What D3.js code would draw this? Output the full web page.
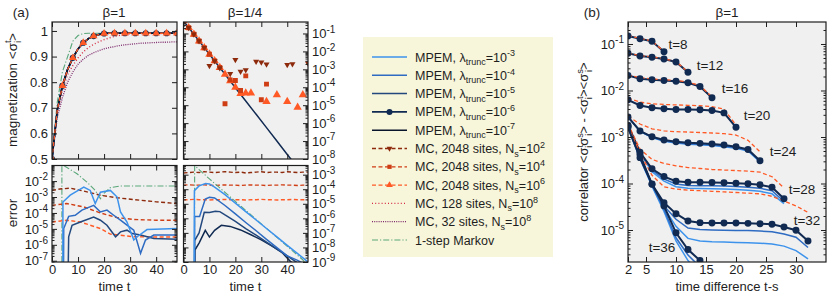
<!DOCTYPE html>
<html><head><meta charset="utf-8">
<script src="https://cdn.jsdelivr.net/npm/d3@7"></script>
<style>
body{margin:0;background:#fff;}
text{font-family:'Liberation Sans',Arial,Helvetica,sans-serif;fill:#1e1e1e;}
</style></head>
<body><svg id="c" width="830" height="295"></svg>
<script>
// ================= DATA =================
// panel (a), beta=1, magnetization
const tA = [0,2,4,6,8,10,12,14,16,18,20,22,24,26,28,30,32,34,36,38,40,42,44,46,48];
const magMPEM   = [0.5,0.69,0.786,0.85,0.895,0.93,0.954,0.97,0.98,0.986,0.99,0.991,0.991,0.991,0.991,0.991,0.991,0.991,0.991,0.991,0.991,0.991,0.991,0.991,0.991];
const magMC128  = [0.5,0.68,0.77,0.83,0.865,0.895,0.918,0.935,0.948,0.958,0.966,0.973,0.979,0.983,0.986,0.988,0.989,0.99,0.99,0.99,0.99,0.99,0.99,0.99,0.99];
const magMC32   = [0.5,0.66,0.74,0.80,0.84,0.87,0.89,0.905,0.915,0.923,0.93,0.935,0.939,0.943,0.946,0.948,0.95,0.952,0.953,0.954,0.955,0.956,0.956,0.957,0.957];
const magMarkov = [0.5,0.72,0.84,0.90,0.96,0.982,0.99,0.991,0.991,0.991,0.991,0.991,0.991,0.991,0.991,0.991,0.991,0.991,0.991,0.991,0.991,0.991,0.991,0.991,0.991];
// panel (a), beta=1/4, magnetization (log)
const tB = [0,4,8,12,16,20,24,28,32,36,40,44,48];
const magB_MPEM = [0.5,0.09,0.0163,0.00295,5.3e-4,9.5e-5,1.7e-5,3.1e-6,5.6e-7,1e-7,1.8e-8,3.3e-9,6e-10];
const magB_N2 = [0.5,0.21,0.09,0.038,0.016,1.6e-3,2.9e-3,1.2e-3,null,5.6e-4,3.4e-3,7.6e-4,9.3e-4,null,2.7e-3,2.5e-3,1.9e-3,null,null,null,1.8e-3,2e-3,null,null,2.2e-3];
const magB_N4 = [0.5,0.21,0.09,0.038,0.016,6.9e-3,2.95e-3,1.26e-3,1.2e-5,2.6e-4,2.4e-4,6.6e-5,4.3e-4,null,null,2e-5,1.5e-4,null,null,null,null,null,null,null,null];
const magB_N6 = [0.5,0.21,0.09,0.038,0.016,6.9e-3,2.95e-3,1.26e-3,5.3e-4,2.3e-4,1e-4,4.5e-5,4.8e-5,4.8e-5,null,null,1.6e-5,null,3.8e-5,null,1.6e-5,null,7.6e-6,3.8e-5,null];
// errors, beta=1  ([t, error])
const errA_L3 = [[4.1,1e-12],[4.2,4.9e-4],[7,1.3e-3],[12.2,4.2e-3],[14.7,2.6e-3],[16.6,3.9e-4],[18.6,2e-3],[22.4,2.6e-3],[25,1e-3],[26.3,1.15e-4],[28.8,2.7e-5],[31.4,2e-6],[32.7,3.2e-6],[36.5,9.1e-6],[48,1.05e-5]];
const errA_L4 = [[4.3,1e-12],[4.5,1.05e-5],[6.4,6.1e-5],[8.9,7.2e-5],[11.5,1.5e-4],[16,3e-4],[18.6,1.15e-4],[21.1,1.5e-4],[23.7,7.2e-5],[26.3,3.5e-5],[28.8,1.7e-5],[31.4,8.3e-6],[34,2.9e-7],[35.9,2e-6],[39.1,4.1e-6],[48,4.1e-6]];
const errA_L5 = [[5.8,1e-12],[6.4,3.2e-6],[7.7,1.7e-5],[10.9,2.7e-5],[16,5.6e-5],[18.6,3.5e-5],[21.1,1.7e-5],[24.4,3.2e-6],[26.3,6.5e-6],[28.8,8.3e-6],[30.8,5.1e-6],[34,4.1e-6],[39.1,2.5e-6],[48,2.2e-6]];
const errA_N2 = [[0,2.6e-3],[3,3.2e-3],[7,3.6e-3],[12,2.4e-3],[18.6,1.3e-3],[25,9e-4],[31.4,6.9e-4],[40,5e-4],[48,3.9e-4]];
const errA_N4 = [[0,3e-4],[5.7,3.9e-4],[12.2,2.4e-4],[18.6,1e-4],[25,5.1e-5],[31.4,3.9e-5],[40,3.5e-5],[48,3.5e-5]];
const errA_N6 = [[0,2.7e-5],[5.7,3.5e-5],[10.9,2.7e-5],[18.6,1.05e-5],[22.4,4.7e-6],[31.4,3.2e-6],[40,3.1e-6],[48,3.1e-6]];
const errA_Mk = [[3.8,1e-12],[3.8,0.12],[5.1,0.083],[9.6,0.029],[13.4,8.7e-3],[16.6,2.6e-3],[18.6,7.9e-4],[19.8,1.6e-3],[22.4,3.9e-3],[26.3,4.9e-3],[48,4.9e-3]];
// errors, beta=1/4
const errB_L3 = [[4.1,1e-12],[4.2,8e-5],[6,1.7e-4],[8.5,2.5e-4],[10,2.3e-4],[12,1.4e-4],[16,4.3e-5],[20,1.1e-5],[24,2.9e-6],[28,7.7e-7],[32,2e-7],[36,5.3e-8],[40,1.4e-8],[44,3.8e-9],[48,1e-9]];
const errB_L4 = [[4.2,1e-12],[4.3,1.35e-6],[6.2,1.35e-6],[8.4,2.1e-5],[10,2.8e-5],[12,2.5e-5],[16,7.6e-6],[20,2e-6],[24,5.2e-7],[28,1.4e-7],[32,3.6e-8],[36,9.7e-9],[40,2.6e-9],[44,1.3e-9],[48,5e-10]];
const errB_L5 = [[4.2,1e-12],[4.3,3e-8],[6,1e-7],[8,2.6e-6],[10,2.5e-6],[12.3,3.1e-6],[14,2.9e-6],[16,1.7e-6],[20,6.2e-7],[24,2e-7],[28,6.9e-8],[32,2.3e-8],[36,7.6e-9],[40,2.6e-9],[44,8.6e-10]];
const errB_L6 = [[4.3,1e-12],[4.4,6.6e-9],[6,2e-8],[8.4,1.5e-7],[10,5.2e-8],[12,1.5e-7],[14.6,3.3e-7],[18,2.8e-7],[22,1.6e-7],[26,7.5e-8],[30,3.3e-8],[34,1.3e-8],[38,4.5e-9],[41,1.2e-9],[44,4e-10]];
const errB_N2 = [1.3e-3,1.4e-3,1.5e-3,1.4e-3,1.6e-3,1.5e-3,1.4e-3,1.5e-3,1.6e-3,1.5e-3,1.4e-3,1.5e-3,1.3e-3,1.4e-3,1.5e-3,1.6e-3,1.4e-3,1.5e-3,1.5e-3,1.4e-3,1.6e-3,1.5e-3,1.4e-3,1.5e-3,1.5e-3];
const errB_N4 = [1.9e-4,2e-4,1.9e-4,1.9e-4,2e-4,1.9e-4,1.8e-4,1.9e-4,2e-4,1.9e-4,1.9e-4,1.8e-4,1.9e-4,2e-4,1.9e-4,1.9e-4,1.8e-4,1.9e-4,1.9e-4,2e-4,1.9e-4,1.9e-4,1.8e-4,1.9e-4,1.9e-4];
const errB_N6 = [1.9e-5,1.9e-5,2e-5,1.9e-5,1.9e-5,1.8e-5,1.9e-5,1.9e-5,2e-5,1.9e-5,1.9e-5,1.9e-5,1.8e-5,1.9e-5,1.9e-5,2e-5,1.9e-5,1.9e-5,1.8e-5,1.9e-5,1.9e-5,2e-5,1.9e-5,1.9e-5,1.9e-5];
const errB_Mk = [[4.2,1e-12],[4.3,4.2e-3],[10,5.1e-4],[20,1.45e-5],[30,4.2e-7],[40,1.2e-8],[46,1.4e-9],[48,5e-10]];
// panel (b) correlator vs time difference t-s
const lags = [2,4,6,8,10,12,14,16,18,20,22,24,26,28,30,32,34,36];
const corrTimes = [8,12,16,20,24,28,32,36];
const corrMPEM = {
  8:[0.149,0.130,0.114,0.068],
  12:[0.063,0.055,0.052,0.0476,0.041,0.0246],
  16:[0.021,0.0179,0.017,0.0164,0.0158,0.0147,0.0122,0.00697],
  20:[0.0063,0.00476,0.00424,0.00404,0.0039,0.0039,0.00385,0.00371,0.0033,0.00162],
  24:[0.0027,0.00135,0.00101,0.00086,0.00079,0.00075,0.00073,0.00071,0.00067,0.00062,0.00054,0.00031],
  28:[0.0018,0.00047,0.000207,0.000141,0.000112,0.000106,0.000106,0.000105,0.000104,0.000101,0.0000985,0.0000937,0.0000833,0.0000469],
  32:[0.0017,0.00042,0.000096,0.0000387,0.0000224,0.0000156,0.0000144,0.0000141,0.0000141,0.0000141,0.0000139,0.0000137,0.0000133,0.0000116,0.0000099,0.0000058],
  36:[0.0016,0.00036,0.0000977,0.000033,0.0000087,0.0000038,0.0000022,0.0000013]
};
const corrMC = {
  8:[0.152,0.132,0.116,0.069],
  12:[0.064,0.056,0.053,0.048,0.042,0.025],
  16:[0.0215,0.0188,0.0178,0.017,0.0164,0.0153,0.0127,0.0072],
  20:[0.0069,0.0056,0.0052,0.005,0.0049,0.0048,0.0047,0.0045,0.004,0.0018],
  24:[0.0028,0.0019,0.0015,0.00135,0.0013,0.00128,0.00125,0.00122,0.00118,0.0011,0.00085,0.00048],
  28:[0.0019,0.00055,0.00033,0.00027,0.00024,0.00022,0.00021,0.0002,0.000195,0.00019,0.000185,0.000175,0.00014,0.00008],
  32:[0.0017,0.00045,0.00015,0.000085,0.000076,0.000072,0.00007,0.000068,0.000066,0.000064,0.000062,0.00006,0.000053,0.000042,0.000033,0.000024]
};
const corrL4 = {
  24:[0.0027,0.00133,0.00099,0.00083,0.00076,0.00072,0.0007,0.00068,0.00064,0.00059,0.00052,0.0003],
  28:[0.0018,0.00046,0.000195,0.000125,0.000097,0.000091,0.00009,0.000089,0.000088,0.000086,0.000083,0.000079,0.00007,0.000041],
  32:[0.0017,0.00041,0.000092,0.000033,0.000017,0.000011,0.0000102,0.00001,0.0000099,0.0000098,0.0000097,0.0000095,0.0000092,0.0000082,0.000007,0.0000042],
  36:[0.0016,0.00035,0.000092,0.000028,0.0000068,0.0000029,0.0000016,0.000001]
};
const corrL3 = {
  24:[0.0027,0.00132,0.00097,0.00081,0.00074,0.0007,0.00068,0.00066,0.00062,0.00057,0.0005,0.00029],
  28:[0.0018,0.00045,0.00018,0.000112,0.000085,0.000079,0.000078,0.000077,0.000076,0.000074,0.000072,0.000068,0.00006,0.000037],
  32:[0.0017,0.0004,0.00009,0.00003,0.000012,0.0000066,0.0000058,0.0000056,0.0000055,0.0000054,0.0000053,0.0000052,0.000005,0.0000045,0.0000036,0.0000024],
  36:[0.0016,0.00034,0.000088,0.000025,0.0000058,0.0000022,0.0000012,0.0000008]
};
const corrLabels = ['t=8','t=12','t=16','t=20','t=24','t=28','t=32','t=36'];
// tick labels
const magTicks = [0.5,0.6,0.7,0.8,0.9,1];
const timeTicks = [0,10,20,30,40];
const lagTicks = [2,5,10,15,20,25,30];

// ================= STYLE =================
const C = {
  l3:'#3d93ec', l4:'#2e6bc2', l5:'#22487e', l6:'#112a52', l7:'#08152b',
  n2:'#8e2a0c', n4:'#cf3d14', n6:'#ff5a26', m128:'#d42b43', m32:'#7d2a6c', mk:'#5aa77a'
};
const FF = "'Liberation Sans',Arial,Helvetica,sans-serif";
const TFS = 13;   // tick label font size
const svg = d3.select('#c');

function rich(text, parts, fs){
  let cur = 0;
  parts.forEach(p => {
    const off = p.s==='sup' ? -0.42*fs : p.s==='sub' ? 0.28*fs : 0;
    const ts = text.append('tspan').attr('dy', off-cur).text(p.t);
    if (p.s) ts.attr('font-size', fs*0.72);
    if (p.dx) ts.attr('dx', p.dx);
    cur = off;
  });
  return text;
}

function panel(id, x0, x1, y0, y1){
  svg.append('rect').attr('x',x0).attr('y',y0).attr('width',x1-x0).attr('height',y1-y0).attr('fill','#f0f0f0');
  svg.append('clipPath').attr('id',id).append('rect').attr('x',x0).attr('y',y0).attr('width',x1-x0).attr('height',y1-y0);
  return svg.append('g').attr('clip-path',`url(#${id})`);
}
function border(x0,x1,y0,y1){
  svg.append('rect').attr('x',x0).attr('y',y0).attr('width',x1-x0).attr('height',y1-y0)
    .attr('fill','none').attr('stroke','#1e1e1e').attr('stroke-width',1.2);
}
function ticks(scale, orient, pos, values, size, labels){
  const gen = {left:d3.axisLeft, right:d3.axisRight, top:d3.axisTop, bottom:d3.axisBottom}[orient];
  const ax = gen(scale).tickValues(values).tickSizeInner(-size).tickSizeOuter(0).tickPadding(orient==='bottom'?2.5:4);
  if (!labels) ax.tickFormat('');
  else if (typeof labels === 'function') ax.tickFormat(labels);
  const a = svg.append('g')
    .attr('transform', (orient==='left'||orient==='right') ? `translate(${pos},0)` : `translate(0,${pos})`)
    .call(ax);
  a.select('.domain').remove();
  a.selectAll('line').attr('stroke','#1e1e1e').attr('stroke-width',1);
  a.selectAll('text').attr('font-size',TFS).attr('font-family',FF).attr('fill','#1e1e1e');
  return a;
}
function supify(a){
  a.selectAll('.tick text').each(function(d){
    const t = d3.select(this); const e = Math.round(Math.log10(d));
    t.text(null);
    t.append('tspan').text('10');
    t.append('tspan').attr('dy',-5.5).attr('font-size',10).text(String(e));
  });
}
function decades(lo, hi){ const r=[]; for(let e=lo;e<=hi;e++) r.push(Math.pow(10,e)); return r; }
function minors(lo, hi, dom){ const r=[]; for(let e=lo;e<=hi;e++) for(let k=2;k<=9;k++){ const v=k*Math.pow(10,e); if(v>=dom[0]&&v<=dom[1]) r.push(v);} return r; }
function logAxes(ys, x0, x1, lo, hi, labelSide, lblLo, lblHi){
  const dom = ys.domain();
  const maj = decades(lo,hi).filter(v=>v>=dom[0]*0.999&&v<=dom[1]*1.001);
  const mn = minors(lo-1,hi,dom);
  const l = ticks(ys,'left',x0,maj,5, labelSide==='left');
  const r = ticks(ys,'right',x1,maj,5, labelSide==='right');
  ticks(ys,'left',x0,mn,2.5,false); ticks(ys,'right',x1,mn,2.5,false);
  const lab = labelSide==='left' ? l : r;
  if (labelSide){
    lab.selectAll('.tick').filter(d=>{const e=Math.round(Math.log10(d)); return e<lblLo||e>lblHi;}).select('text').remove();
    supify(lab);
  }
}
function lineOf(g, pts, xs, ys, color, w, dash){
  const ln = d3.line().defined(d=>d[1]!=null&&d[1]>0).x(d=>xs(d[0])).y(d=>ys(d[1]));
  const p = g.append('path').attr('d', ln(pts)).attr('fill','none').attr('stroke',color).attr('stroke-width',w);
  if (dash) p.attr('stroke-dasharray', dash);
  return p;
}
function marks(g, pts, xs, ys, type, color, size){
  const sym = type==='circle'?d3.symbolCircle: type==='square'?d3.symbolSquare : d3.symbolTriangle;
  const path = d3.symbol().type(sym).size(size);
  g.selectAll(null).data(pts.filter(d=>d[1]!=null&&d[1]>0)).enter().append('path')
    .attr('d', path)
    .attr('transform', d=>`translate(${xs(d[0])},${ys(d[1])})${type==='inv'?' rotate(180)':''}`)
    .attr('fill', color);
}
const zip = (xs, vs) => vs.map((v,i)=>[xs[i], v]);

const DASH='4,2.5', DOT1='1,2.2', DOT2='1,1.2', DASHDOT='6,2,1.2,2';

// ================= PANEL A1 (beta=1 magnetization) =================
const A1 = {x0:52,x1:177,y0:22,y1:159};
const xA1 = d3.scaleLinear().domain([0,48]).range([A1.x0,A1.x1]);
const yA1 = d3.scaleLinear().domain([0.5,1.035]).range([A1.y1,A1.y0]);
let g = panel('cA1',A1.x0,A1.x1,A1.y0,A1.y1);
lineOf(g, zip(tA,magMarkov), xA1,yA1, C.mk,1.1,DASHDOT);
lineOf(g, zip(tA,magMC32), xA1,yA1, C.m32,1.3,DOT2);
lineOf(g, zip(tA,magMC128), xA1,yA1, C.m128,1.4,DOT1);
[C.l3,C.l4,C.l5,C.l6,C.l7].forEach(c=>lineOf(g, zip(tA,magMPEM), xA1,yA1, c,1.5));
lineOf(g, zip(tA,magMPEM), xA1,yA1, C.n6,1.3,DASH);
const mkA = zip(tA,magMPEM).filter(d=>d[0]%4===0);
marks(g, mkA, xA1,yA1,'circle',C.l6,30);
marks(g, mkA, xA1,yA1,'tri',C.n6,26);
ticks(yA1,'left',A1.x0,magTicks,5,d=>d3.format('')(d));
ticks(yA1,'right',A1.x1,magTicks,5,false);
ticks(xA1,'bottom',A1.y1,timeTicks,5,false);
ticks(xA1,'top',A1.y0,timeTicks,5,false);
border(A1.x0,A1.x1,A1.y0,A1.y1);

// ================= PANEL A2 (beta=1/4 magnetization, log) =================
const A2 = {x0:183.5,x1:308,y0:22,y1:159};
const xA2 = d3.scaleLinear().domain([0,48]).range([A2.x0,A2.x1]);
const yA2 = d3.scaleLog().domain([1e-8,Math.pow(10,-0.36)]).range([A2.y1,A2.y0]);
g = panel('cA2',A2.x0,A2.x1,A2.y0,A2.y1);
lineOf(g, zip(tB,magB_MPEM), xA2,yA2, C.l6,1.5);
marks(g, zip(tA,magB_N6), xA2,yA2,'tri',C.n6,30);
marks(g, zip(tA,magB_N4), xA2,yA2,'square',C.n4,24);
marks(g, zip(tA,magB_N2), xA2,yA2,'inv',C.n2,16);
logAxes(yA2, A2.x0, A2.x1, -8, -1, 'right', -8, -1);
ticks(xA2,'bottom',A2.y1,timeTicks,5,false);
ticks(xA2,'top',A2.y0,timeTicks,5,false);
border(A2.x0,A2.x1,A2.y0,A2.y1);

// ================= PANEL A3 (beta=1 error) =================
const A3 = {x0:52,x1:177,y0:165.5,y1:262};
const xA3 = d3.scaleLinear().domain([0,48]).range([A3.x0,A3.x1]);
const yA3 = d3.scaleLog().domain([Math.pow(10,-7.08),Math.pow(10,-1.02)]).range([A3.y1,A3.y0]);
g = panel('cA3',A3.x0,A3.x1,A3.y0,A3.y1);
lineOf(g, errA_Mk, xA3,yA3, C.mk,1.1,DASHDOT);
lineOf(g, errA_N2, xA3,yA3, C.n2,1.4,DASH);
lineOf(g, errA_N4, xA3,yA3, C.n4,1.4,DASH);
lineOf(g, errA_N6, xA3,yA3, C.n6,1.4,DASH);
lineOf(g, errA_L5, xA3,yA3, C.l5,1.5);
lineOf(g, errA_L4, xA3,yA3, C.l4,1.5);
lineOf(g, errA_L3, xA3,yA3, C.l3,1.5);
logAxes(yA3, A3.x0, A3.x1, -7, -1, 'left', -7, -2);
ticks(xA3,'bottom',A3.y1,timeTicks,5,d=>d);
ticks(xA3,'top',A3.y0,timeTicks,5,false);
border(A3.x0,A3.x1,A3.y0,A3.y1);

// ================= PANEL A4 (beta=1/4 error) =================
const A4 = {x0:183.5,x1:308,y0:165.5,y1:262};
const xA4 = d3.scaleLinear().domain([0,48]).range([A4.x0,A4.x1]);
const yA4 = d3.scaleLog().domain([1e-9,Math.pow(10,-2.37)]).range([A4.y1,A4.y0]);
g = panel('cA4',A4.x0,A4.x1,A4.y0,A4.y1);
lineOf(g, zip(tA,errB_N2), xA4,yA4, C.n2,1.4,DASH);
lineOf(g, zip(tA,errB_N4), xA4,yA4, C.n4,1.4,DASH);
lineOf(g, zip(tA,errB_N6), xA4,yA4, C.n6,1.4,DASH);
lineOf(g, errB_Mk, xA4,yA4, C.mk,1.1,DASHDOT);
lineOf(g, errB_L6, xA4,yA4, C.l6,1.5);
lineOf(g, errB_L5, xA4,yA4, C.l5,1.5);
lineOf(g, errB_L4, xA4,yA4, C.l4,1.5);
lineOf(g, errB_L3, xA4,yA4, C.l3,1.5);
logAxes(yA4, A4.x0, A4.x1, -9, -3, 'right', -9, -3);
ticks(xA4,'bottom',A4.y1,timeTicks,5,d=>d);
ticks(xA4,'top',A4.y0,timeTicks,5,false);
border(A4.x0,A4.x1,A4.y0,A4.y1);

// ================= PANEL B (correlator) =================
const B = {x0:628,x1:826,y0:22,y1:262};
const xB = d3.scaleLinear().domain([2,35]).range([B.x0,B.x1]);
const yB = d3.scaleLog().domain([Math.pow(10,-5.688),Math.pow(10,-0.527)]).range([B.y1,B.y0]);
g = panel('cB',B.x0,B.x1,B.y0,B.y1);
corrTimes.forEach(t=>{
  if (corrL3[t]) lineOf(g, zip(lags,corrL3[t]), xB,yB, C.l3,1.5);
  if (corrL4[t]) lineOf(g, zip(lags,corrL4[t]), xB,yB, C.l4,1.5);
});
corrTimes.forEach(t=>{
  lineOf(g, zip(lags,corrMPEM[t]), xB,yB, C.l6,2);
  if (corrMC[t]) lineOf(g, zip(lags,corrMC[t]), xB,yB, C.n6,1.3,DASH);
});
corrTimes.forEach(t=>{
  const pts = zip(lags,corrMPEM[t]);
  marks(g, pts.slice(0, t===36?7:pts.length), xB,yB,'circle',C.l6,38);
});
logAxes(yB, B.x0, B.x1, -5, -1, 'left', -5, -1);
ticks(xB,'bottom',B.y1,lagTicks,5,d=>d);
ticks(xB,'top',B.y0,lagTicks,5,false);
border(B.x0,B.x1,B.y0,B.y1);
const lblPos = [[678,44],[710,65],[735,88],[757,115],[783,151],[802,189],[807,220],[662,247]];
corrLabels.forEach((s,i)=>{
  svg.append('text').attr('x',lblPos[i][0]).attr('y',lblPos[i][1]).attr('text-anchor','middle')
    .attr('dominant-baseline','central').attr('font-size',13.5).text(s);
});

// ================= TITLES & AXIS LABELS =================
function title(x,y,s,fs){ svg.append('text').attr('x',x).attr('y',y).attr('text-anchor','middle').attr('dominant-baseline','central').attr('font-size',fs||13.5).text(s); }
title(21,12,'(a)'); title(114,12,'β=1'); title(245,12,'β=1/4');
title(592,12,'(b)'); title(727,12,'β=1');
title(114.5,286.5,'time t',13); title(245.5,286.5,'time t',13);
title(727,286.5,'time difference t-s',13);

const sig = (a)=>[{t:'σ'},{t:a,s:'sup'},{t:'i',s:'sub',dx:-2.8}];
rich(svg.append('text').attr('transform','translate(17,90) rotate(-90)').attr('text-anchor','middle').attr('font-size',13.5),
  [{t:'magnetization <'},...sig('t'),{t:'>'}],13.5);
svg.append('text').attr('transform','translate(17,213) rotate(-90)').attr('text-anchor','middle').attr('font-size',13.5).text('error');
rich(svg.append('text').attr('transform','translate(588,142) rotate(-90)').attr('text-anchor','middle').attr('font-size',13),
  [{t:'correlator <'},...sig('t'),...sig('s'),{t:'> - <'},...sig('t'),{t:'><'},...sig('s'),{t:'>'}],13);

// ================= LEGEND =================
const legendRows = [
  {c:C.l3,w:1.5,lab:'-3'},{c:C.l4,w:1.5,lab:'-4'},{c:C.l5,w:1.5,lab:'-5'},{c:C.l6,w:1.6,lab:'-6',m:'circle'},{c:C.l7,w:1.6,lab:'-7'},
  {c:C.n2,w:1.3,d:DASH,mc:'2048',ns:'2',m:'inv'},{c:C.n4,w:1.3,d:DASH,mc:'2048',ns:'4',m:'square'},{c:C.n6,w:1.3,d:DASH,mc:'2048',ns:'6',m:'tri'},
  {c:C.m128,w:1.3,d:DOT1,mc:'128',ns:'8'},{c:C.m32,w:1.3,d:DOT2,mc:'32',ns:'8'},{c:C.mk,w:1.1,d:DASHDOT,mk:true}
];
svg.append('rect').attr('x',363).attr('y',37).attr('width',190).attr('height',220).attr('fill','#f7f5da');
legendRows.forEach((r,i)=>{
  const y = 57 + i*18.3;
  const ln = svg.append('line').attr('x1',372).attr('x2',407).attr('y1',y).attr('y2',y).attr('stroke',r.c).attr('stroke-width',r.w);
  if (r.d) ln.attr('stroke-dasharray',r.d);
  if (r.m){
    const sym = r.m==='circle'?d3.symbolCircle: r.m==='square'?d3.symbolSquare:d3.symbolTriangle;
    const sz = r.m==='circle'?28: r.m==='square'?18: r.m==='inv'?14:20;
    svg.append('path').attr('d',d3.symbol().type(sym).size(sz)()).attr('fill',r.c)
      .attr('transform',`translate(389.5,${y})${r.m==='inv'?' rotate(180)':''}`);
  }
  const t = svg.append('text').attr('x',415).attr('y',y+4.5).attr('font-size',12.5);
  if (r.lab) rich(t,[{t:'MPEM, λ'},{t:'trunc',s:'sub'},{t:'=10'},{t:r.lab,s:'sup'}],12.5);
  else if (r.mc) rich(t,[{t:`MC, ${r.mc} sites, N`},{t:'s',s:'sub'},{t:'=10'},{t:r.ns,s:'sup'}],12.5);
  else t.text('1-step Markov');
});
</script></body></html>
